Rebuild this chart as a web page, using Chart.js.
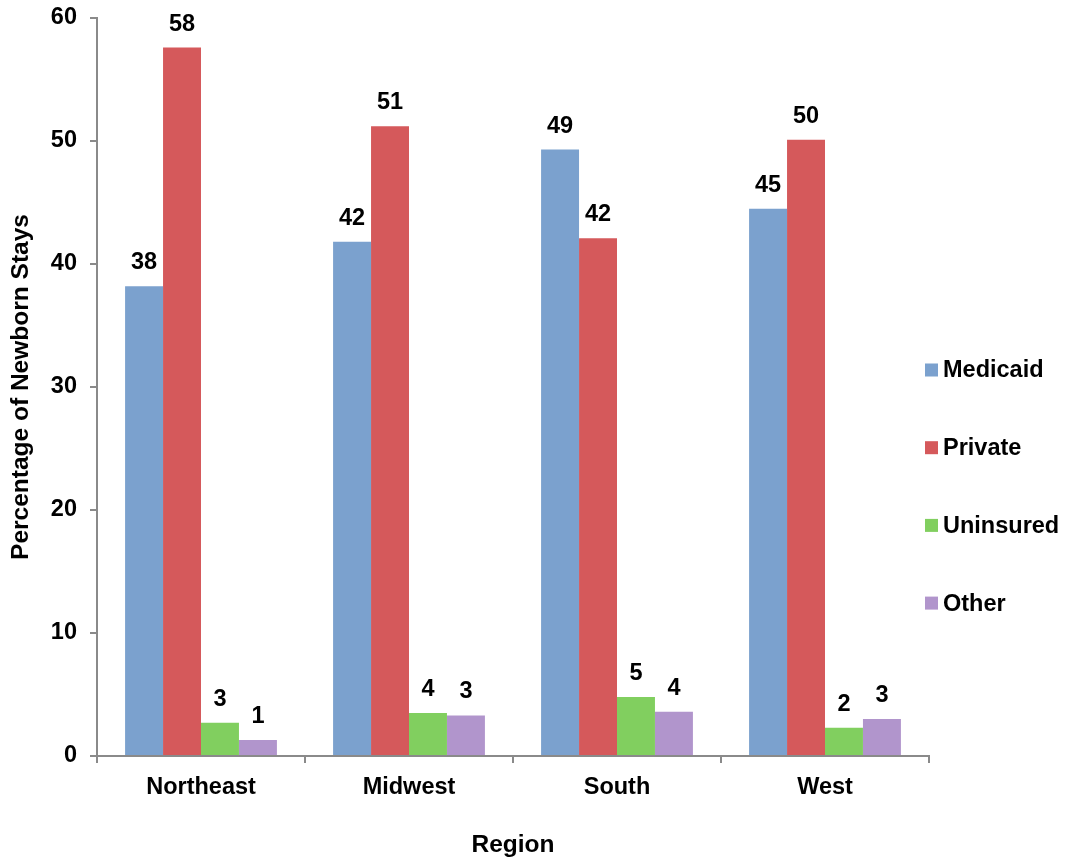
<!DOCTYPE html>
<html>
<head>
<meta charset="utf-8">
<script src="https://cdn.jsdelivr.net/npm/chart.js@4.4.1/dist/chart.umd.min.js"></script>
<style>
  html, body { margin: 0; padding: 0; background: #ffffff; }
  #wrap { width: 1066px; height: 858px; position: relative; }
</style>
</head>
<body>
<div id="wrap"><canvas id="c"></canvas></div>
<script>
// ---- Data ----
const categories = ['Northeast', 'Midwest', 'South', 'West'];
const medicaid   = [38.2, 41.8, 49.3, 44.5];
const privateIns = [57.6, 51.2, 42.1, 50.1];
const uninsured  = [2.7, 3.5, 4.8, 2.3];
const other      = [1.3, 3.3, 3.6, 3.0];
const seriesNames = ['Medicaid', 'Private', 'Uninsured', 'Other'];
const yTicksMax = 60;
const yTickStep = 10;

// ---- Styles ----
const colors = ['#7BA1CE', '#D5595B', '#81CF5F', '#B195CC'];
const FONT = '"Liberation Sans", Arial, Helvetica, sans-serif';
const axisColor = '#8a8a8a';

Chart.defaults.font.family = FONT;
Chart.defaults.font.weight = 'bold';
Chart.defaults.color = '#000000';

const valueLabels = {
  id: 'valueLabels',
  afterDatasetsDraw(chart) {
    const ctx = chart.ctx;
    ctx.save();
    ctx.font = 'bold 23.5px ' + FONT;
    ctx.fillStyle = '#000';
    ctx.textAlign = 'center';
    ctx.textBaseline = 'alphabetic';
    chart.data.datasets.forEach((ds, di) => {
      const meta = chart.getDatasetMeta(di);
      meta.data.forEach((bar, i) => {
        const v = ds.data[i];
        ctx.fillText(String(Math.round(v)), bar.x, bar.y - 17);
      });
    });
    ctx.restore();
  }
};

const sideLegend = {
  id: 'sideLegend',
  afterDraw(chart, args, opts) {
    const ctx = chart.ctx;
    ctx.save();
    ctx.font = 'bold 23.5px ' + FONT;
    ctx.textAlign = 'left';
    ctx.textBaseline = 'middle';
    const x0 = chart.chartArea.right + opts.gap;
    chart.data.datasets.forEach((ds, i) => {
      const cy = opts.firstY + i * opts.spacing;
      ctx.fillStyle = ds.backgroundColor;
      ctx.fillRect(x0, cy - opts.box / 2, opts.box, opts.box);
      ctx.fillStyle = '#000';
      ctx.fillText(ds.label, x0 + opts.box + 5, cy + 1);
    });
    ctx.restore();
  }
};

const seriesData = [medicaid, privateIns, uninsured, other];

new Chart(document.getElementById('c'), {
  type: 'bar',
  data: {
    labels: categories,
    datasets: seriesNames.map((name, i) => ({
      label: name,
      data: seriesData[i],
      backgroundColor: colors[i],
      borderWidth: 0,
      categoryPercentage: 0.73,
      barPercentage: 1.0
    }))
  },
  plugins: [valueLabels, sideLegend],
  options: {
    responsive: true,
    maintainAspectRatio: false,
    animation: false,
    layout: { padding: { top: 18, right: 137, left: 0, bottom: 0 } },
    plugins: {
      legend: { display: false },
      tooltip: { enabled: false },
      sideLegend: { gap: -4, firstY: 370, spacing: 77.7, box: 13 }
    },
    scales: {
      x: {
        offset: true,
        grid: {
          offset: true,
          drawOnChartArea: false,
          drawTicks: true,
          tickLength: 7,
          color: axisColor,
          lineWidth: 2
        },
        border: { display: true, color: axisColor, width: 2 },
        ticks: { font: { size: 23.5, weight: 'bold' }, color: '#000', padding: 10 },
        title: {
          display: true,
          text: 'Region',
          font: { size: 24.5, weight: 'bold' },
          color: '#000',
          padding: { top: 0, bottom: -2 }
        },
        afterFit(scale) { scale.height = 102; }
      },
      y: {
        min: 0,
        max: yTicksMax,
        ticks: { stepSize: yTickStep, font: { size: 23.5, weight: 'bold' }, color: '#000', padding: 13 },
        grid: {
          drawOnChartArea: false,
          drawTicks: true,
          tickLength: 7,
          color: axisColor,
          lineWidth: 2
        },
        border: { display: true, color: axisColor, width: 2 },
        title: {
          display: true,
          text: 'Percentage of Newborn Stays',
          font: { size: 24.5, weight: 'bold' },
          color: '#000',
          padding: { top: 7, bottom: 0 }
        },
        afterFit(scale) { scale.width = 97; scale.paddingTop = 0; scale.paddingBottom = 0; }
      }
    }
  }
});
</script>
</body>
</html>
